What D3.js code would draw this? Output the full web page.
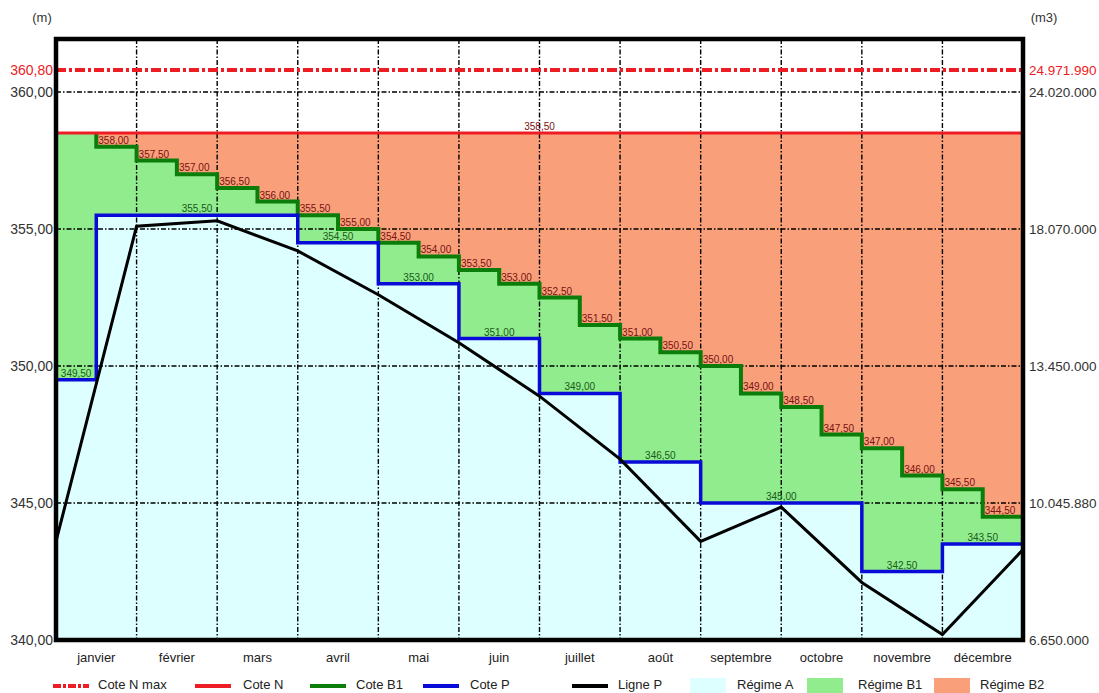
<!DOCTYPE html>
<html><head><meta charset="utf-8">
<script src="https://cdn.jsdelivr.net/npm/d3@7"></script>
<style>
html,body{margin:0;padding:0;background:#fff;}
svg text{font-family:"Liberation Sans",Arial,sans-serif;}
</style></head>
<body><svg id="c" width="1099" height="693"></svg>
<script>
const months = ["janvier","février","mars","avril","mai","juin","juillet","août","septembre","octobre","novembre","décembre"];
// half-month values
const coteB1 = [358.5,358.0,357.5,357.0,356.5,356.0,355.5,355.0,354.5,354.0,353.5,353.0,352.5,351.5,351.0,350.5,350.0,349.0,348.5,347.5,347.0,346.0,345.5,344.5];
const coteP = [349.5,355.5,355.5,355.5,355.5,355.5,354.5,354.5,353.0,353.0,351.0,351.0,349.0,349.0,346.5,346.5,345.0,345.0,345.0,345.0,342.5,342.5,343.5,343.5];
// month boundaries
const ligneP = [343.6,355.1,355.3,354.2,352.6,350.85,348.9,346.6,343.6,344.85,342.1,340.2,343.3];
const coteN = 358.5;
const coteNmax = 360.8;
const leftTicks = [340,345,350,355,360];
const rightTickLabels = ["6.650.000","10.045.880","13.450.000","18.070.000","24.020.000"];
const nmaxVolume = "24.971.990";
const legendItems = ["Cote N max","Cote N","Cote B1","Cote P","Ligne P","Régime A","Régime B1","Régime B2"];

const C = {red:"#ee1c24", green:"#0b7d0b", blue:"#0a0ad8", black:"#000",
  fillA:"#ddffff", fillB1:"#90ec8c", fillB2:"#f9a07b", labB1:"#7a1010", labP:"#1a5a1a", txt:"#333"};

const L=56, R=1023, T=39, B=640;
const svg = d3.select("#c");
const loc = d3.formatLocale({decimal:",", thousands:".", grouping:[3], currency:["",""]});
const f2 = loc.format(".2f");

const x = d3.scaleLinear().domain([0,24]).range([L,R]);
const xm = d3.scaleBand().domain(months).range([L,R]);
const y = d3.scaleLinear().domain([340, 340+(B-T)/27.4]).range([B,T]);

const ext = a => a.map((v,i)=>[i,v]).concat([[a.length,a[a.length-1]]]);
const idx = d3.range(25);
const val = (a,i)=>a[Math.min(i,a.length-1)];

// fills
svg.append("path").attr("fill",C.fillA)
  .attr("d", d3.area().curve(d3.curveStepAfter).x(i=>x(i)).y0(y(340)).y1(i=>y(val(coteP,i)))(idx));
svg.append("path").attr("fill",C.fillB1)
  .attr("d", d3.area().curve(d3.curveStepAfter).x(i=>x(i)).y0(i=>y(val(coteP,i))).y1(i=>y(val(coteB1,i)))(idx));
svg.append("path").attr("fill",C.fillB2)
  .attr("d", d3.area().curve(d3.curveStepAfter).x(i=>x(i)).y0(i=>y(val(coteB1,i))).y1(y(coteN))(idx));

// grid
const grid = svg.append("g").attr("stroke","#000").attr("stroke-width",1.4).attr("stroke-dasharray","5,2,1.5,2");
d3.range(1,12).forEach(m=>{
  grid.append("line").attr("x1",xm(months[m])).attr("x2",xm(months[m])).attr("y1",T).attr("y2",B);
});
leftTicks.slice(1).forEach(v=>{
  grid.append("line").attr("x1",L).attr("x2",R).attr("y1",y(v)).attr("y2",y(v));
});

// lines
const b1Pts = [[1,coteB1[0]]].concat(ext(coteB1).slice(1));
svg.append("path").attr("fill","none").attr("stroke",C.green).attr("stroke-width",4)
  .attr("d", d3.line().curve(d3.curveStepAfter).x(d=>x(d[0])).y(d=>y(d[1]))(b1Pts));
svg.append("path").attr("fill","none").attr("stroke",C.blue).attr("stroke-width",3.5)
  .attr("d", d3.line().curve(d3.curveStepAfter).x(d=>x(d[0])).y(d=>y(d[1]))(ext(coteP)));
svg.append("path").attr("fill","none").attr("stroke",C.black).attr("stroke-width",3)
  .attr("d", d3.line().x((d,i)=>x(i*2)).y(d=>y(d))(ligneP));
svg.append("line").attr("x1",L).attr("x2",R).attr("y1",y(coteN)).attr("y2",y(coteN))
  .attr("stroke",C.red).attr("stroke-width",3);
svg.append("line").attr("x1",L).attr("x2",R).attr("y1",y(coteNmax)).attr("y2",y(coteNmax))
  .attr("stroke",C.red).attr("stroke-width",4).attr("stroke-dasharray","10,3,3,3");

// value labels
const lab = svg.append("g").attr("font-size",10);
coteB1.forEach((v,i)=>{
  if(i===0) return;
  lab.append("text").attr("x",x(i)+2).attr("y",y(v)-3).attr("fill",C.labB1).text(f2(v));
});
// runs of Cote P
let runs=[]; let s=0;
for(let i=1;i<=coteP.length;i++){
  if(i===coteP.length || coteP[i]!==coteP[s]){ runs.push([s,i,coteP[s]]); s=i; }
}
runs.forEach(r=>{
  lab.append("text").attr("x",x((r[0]+r[1])/2)).attr("y",y(r[2])-3).attr("text-anchor","middle")
    .attr("fill",C.labP).text(f2(r[2]));
});
lab.append("text").attr("x",x(12)).attr("y",y(coteN)-3).attr("text-anchor","middle").attr("fill",C.labB1).text(f2(coteN));

// border
svg.append("rect").attr("x",L).attr("y",T).attr("width",R-L).attr("height",B-T)
  .attr("fill","none").attr("stroke","#000").attr("stroke-width",4.5);

// axes
const axL = svg.append("g").attr("transform",`translate(${L-2},0)`)
  .call(d3.axisLeft(y).tickValues(leftTicks).tickSize(0).tickPadding(1).tickFormat(f2));
axL.select(".domain").remove();
axL.selectAll("text").attr("font-size",14).attr("fill",C.txt).attr("font-family","Liberation Sans, Arial, sans-serif");
svg.append("text").attr("x",L-3).attr("y",y(coteNmax)).attr("dy","0.35em").attr("text-anchor","end")
  .attr("font-size",14).attr("fill",C.red).text(f2(coteNmax));

const axR = svg.append("g").attr("transform",`translate(${R+3},0)`)
  .call(d3.axisRight(y).tickValues(leftTicks).tickSize(0).tickPadding(3).tickFormat((d,i)=>rightTickLabels[i]));
axR.select(".domain").remove();
axR.selectAll("text").attr("font-size",13.5).attr("fill",C.txt).attr("font-family","Liberation Sans, Arial, sans-serif");
svg.append("text").attr("x",R+6).attr("y",y(coteNmax)).attr("dy","0.35em")
  .attr("font-size",13.5).attr("fill",C.red).text(nmaxVolume);

const axB = svg.append("g").attr("transform",`translate(0,${B})`)
  .call(d3.axisBottom(xm).tickSize(0).tickPadding(13));
axB.select(".domain").remove();
axB.selectAll("text").attr("font-size",13).attr("fill","#222").attr("font-family","Liberation Sans, Arial, sans-serif");

svg.append("text").attr("x",42).attr("y",22).attr("text-anchor","middle").attr("font-size",13).attr("fill",C.txt).text("(m)");
svg.append("text").attr("x",1044).attr("y",22).attr("text-anchor","middle").attr("font-size",13).attr("fill",C.txt).text("(m3)");

// legend
const lg = svg.append("g");
const lgX = [53,195,310,423,572,690,807,934];
const lgT = [98,243,356,470,618,737,858,980];
const ly = 686;
const styles = [
  {t:"line",c:C.red,dash:"8,2,3,2"},{t:"line",c:C.red},{t:"line",c:C.green},{t:"line",c:C.blue},{t:"line",c:C.black},
  {t:"rect",c:C.fillA},{t:"rect",c:C.fillB1},{t:"rect",c:C.fillB2}];
legendItems.forEach((name,i)=>{
  const st=styles[i];
  if(st.t==="line"){
    lg.append("line").attr("x1",lgX[i]).attr("x2",lgX[i]+36).attr("y1",ly).attr("y2",ly)
      .attr("stroke",st.c).attr("stroke-width",4).attr("stroke-dasharray",st.dash||null);
  } else {
    lg.append("rect").attr("x",lgX[i]).attr("y",678).attr("width",36).attr("height",15).attr("fill",st.c);
  }
  lg.append("text").attr("x",lgT[i]).attr("y",689).attr("font-size",13).attr("fill","#222").text(name);
});
</script></body></html>
